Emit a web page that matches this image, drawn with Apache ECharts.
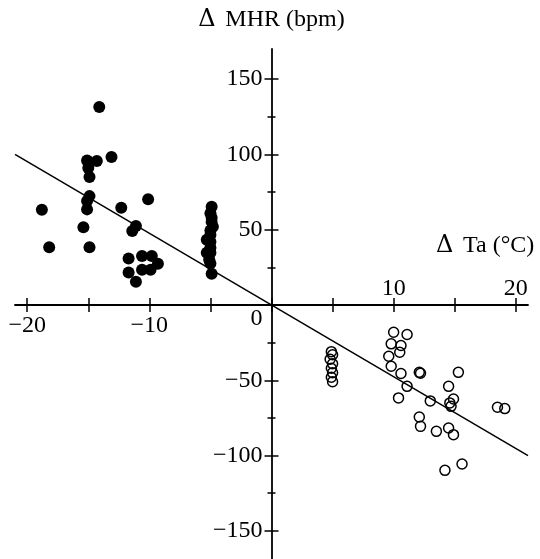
<!DOCTYPE html>
<html>
<head>
<meta charset="utf-8">
<script src="https://cdn.jsdelivr.net/npm/echarts@6.0.0/dist/echarts.min.js"></script>
<style>
  html, body { margin: 0; padding: 0; background: #fff; }
  #chart { width: 540px; height: 559px; }
</style>
</head>
<body>
<div id="chart"></div>
<script>
// Cooling trials: change in air temperature (°C) vs change in mean heart rate (bpm)
const coolDeltaTa = [
  -14.1, -15.1, -14.3, -15.0, -14.9, -13.1, -14.9, -15.1, -15.1, -18.8,
  -15.4, -18.2, -14.9, -12.3, -10.1, -11.1, -11.4, -11.7, -10.6, -9.8,
  -9.3, -11.7, -10.6, -9.9, -11.1,
  -4.9, -5.0, -4.9, -4.9, -4.8, -5.0, -5.0, -5.3, -5.0, -5.0, -5.3, -5.0, -5.1, -5.0, -4.9
];
const coolDeltaMHR = [
  131.5, 96.0, 95.6, 91.0, 85.0, 98.3, 72.3, 69.0, 63.5, 63.3,
  51.7, 38.4, 38.4, 64.6, 70.3, 52.4, 49.1, 30.9, 32.5, 32.5,
  27.4, 21.6, 23.4, 23.4, 15.4,
  65.3, 61.0, 58.0, 55.2, 52.0, 49.5, 46.5, 43.4, 42.0, 38.0, 34.7, 34.7, 30.0, 27.5, 20.7
];

// Warming trials
const warmDeltaTa = [
  4.9, 5.0, 4.8, 5.0, 4.9, 5.0, 4.9, 5.0,
  10.0, 11.1, 9.8, 10.6, 10.5, 9.6, 9.8, 10.6, 12.1, 12.2,
  15.3, 11.1, 14.5, 10.4, 13.0, 14.9, 14.6, 14.7, 18.5, 19.1,
  12.1, 12.2, 13.5, 14.5, 14.9, 15.6, 14.2
];
const warmDeltaMHR = [
  -31, -33, -36, -39, -42, -45, -48, -51,
  -18.1, -19.6, -25.8, -26.9, -31.4, -34.0, -40.7, -45.5, -44.7, -45.3,
  -44.7, -54.0, -54.0, -61.7, -63.7, -62.4, -65.0, -67.3, -67.9, -68.8,
  -74.4, -80.6, -83.9, -81.7, -86.1, -105.6, -109.8
];

// Fitted line end points
const fitDeltaTa = [-21, 21];
const fitDeltaMHR = [100, -100];

// Axis ticks and labels
const xMajorTicks = [-20, -15, -10, -5, 0, 5, 10, 15, 20];
const xLabelsBelow = [-20, -10];
const xLabelsAbove = [10, 20];
const yMajorTicks = [-150, -100, -50, 50, 100, 150];
const yMinorTicks = [-125, -75, -25, 25, 75, 125];
const yLabels = [-150, -100, -50, 0, 50, 100, 150];

const FONT = 'Liberation Serif';
const INK = '#000';
const minus = v => String(v).replace('-', '\u2212');
const zip = (xs, ys) => xs.map((x, i) => [x, ys[i]]);

const textBase = { fontFamily: FONT, fontSize: 24, color: INK };
// the Greek delta is set in a wider face, followed by a fixed gap
const deltaStyle = { fontFamily: 'DejaVu Serif', fontSize: 24, color: INK, width: 27, align: 'left' };
const X_RANGE = { min: -21, max: 21 };
const Y_RANGE = { min: -170, max: 170 };

// Plot box (px) and the resulting position of the zero lines
const W = 540, H = 559;
const GRID = { left: 15, right: 12, top: 49, bottom: -2 };
const plotW = W - GRID.left - GRID.right;
const plotH = H - GRID.top - GRID.bottom;
const zeroXpx = plotW * (0 - X_RANGE.min) / (X_RANGE.max - X_RANGE.min);   // from grid left
const zeroYpx = plotH * (0 - Y_RANGE.min) / (Y_RANGE.max - Y_RANGE.min);   // from grid bottom

function xAxisBase(extra) {
  return Object.assign({
    type: 'value', ...X_RANGE, position: 'bottom',
    splitLine: { show: false },
    axisLine: { show: false, onZero: true, onZeroAxisIndex: 0 },
    axisTick: { show: false },
    axisLabel: { show: false }
  }, extra);
}
function yAxisBase(extra) {
  return Object.assign({
    type: 'value', ...Y_RANGE, position: 'left',
    splitLine: { show: false },
    axisLine: { show: false, onZero: true, onZeroAxisIndex: 0 },
    axisTick: { show: false },
    axisLabel: { show: false }
  }, extra);
}
const tickStyle = { color: INK, width: 1.5 };

const option = {
  backgroundColor: '#fff',
  animation: false,
  grid: Object.assign({ outerBoundsMode: 'none' }, GRID),
  xAxis: [
    // axis line, name and ticks below the line
    xAxisBase({
      name: '{d|\u0394}Ta (°C)',
      nameLocation: 'end',
      nameGap: -92,
      nameMoveOverlap: false,
      nameTextStyle: Object.assign({}, textBase, {
        padding: [0, 0, 118, 0],
        rich: { d: deltaStyle }
      }),
      axisLine: { show: true, onZero: true, onZeroAxisIndex: 0, lineStyle: { color: INK, width: 1.8 } },
      axisTick: { show: true, inside: false, length: 7, customValues: xMajorTicks, lineStyle: tickStyle }
    }),
    // ticks above the line
    xAxisBase({
      axisTick: { show: true, inside: true, length: 7, customValues: xMajorTicks, lineStyle: tickStyle }
    }),
    // labels below the line (negative side)
    xAxisBase({
      axisLine: { show: false, onZero: false },
      offset: -zeroYpx,
      axisLabel: Object.assign({ show: true, margin: 9, customValues: xLabelsBelow, formatter: minus }, textBase)
    }),
    // labels above the line (positive side)
    xAxisBase({
      axisLine: { show: false, onZero: false },
      offset: -zeroYpx,
      axisLabel: Object.assign({ show: true, inside: true, margin: 4, customValues: xLabelsAbove, formatter: minus }, textBase)
    })
  ],
  yAxis: [
    yAxisBase({
      name: '{d|\u0394}MHR (bpm)',
      nameLocation: 'end',
      nameGap: 17,
      nameMoveOverlap: false,
      nameTextStyle: Object.assign({}, textBase, {
        rich: { d: deltaStyle }
      }),
      axisLine: { show: true, onZero: true, onZeroAxisIndex: 0, lineStyle: { color: INK, width: 1.8 } },
      axisTick: { show: true, inside: false, length: 7, customValues: yMajorTicks, lineStyle: tickStyle }
    }),
    yAxisBase({
      axisTick: { show: true, inside: true, length: 7, customValues: yMajorTicks, lineStyle: tickStyle }
    }),
    yAxisBase({
      axisTick: { show: true, inside: false, length: 4, customValues: yMinorTicks, lineStyle: tickStyle }
    }),
    yAxisBase({
      axisTick: { show: true, inside: true, length: 4, customValues: yMinorTicks, lineStyle: tickStyle }
    }),
    // tick labels, left of the vertical line
    yAxisBase({
      axisLine: { show: false, onZero: false },
      offset: -zeroXpx,
      axisLabel: Object.assign({
        show: true, margin: 9, customValues: yLabels,
        formatter: v => (v === 0 ? '{z|0}' : minus(v)),
        rich: { z: Object.assign({ padding: [28, 0, 0, 0] }, textBase) }
      }, textBase)
    })
  ],
  series: [
    {
      name: 'fit',
      type: 'line',
      data: zip(fitDeltaTa, fitDeltaMHR),
      showSymbol: false,
      lineStyle: { color: INK, width: 1.5 },
      z: 1
    },
    {
      name: 'cooling',
      type: 'scatter',
      data: zip(coolDeltaTa, coolDeltaMHR),
      symbol: 'circle',
      symbolSize: 12,
      itemStyle: { color: INK, opacity: 1 },
      z: 3
    },
    {
      name: 'warming',
      type: 'scatter',
      data: zip(warmDeltaTa, warmDeltaMHR),
      symbol: 'circle',
      symbolSize: 10,
      itemStyle: { color: 'rgba(0,0,0,0)', borderColor: INK, borderWidth: 1.5, opacity: 1 },
      z: 3
    }
  ]
};

const chart = echarts.init(document.getElementById('chart'), null, { renderer: 'canvas' });
chart.setOption(option);
</script>
</body>
</html>
